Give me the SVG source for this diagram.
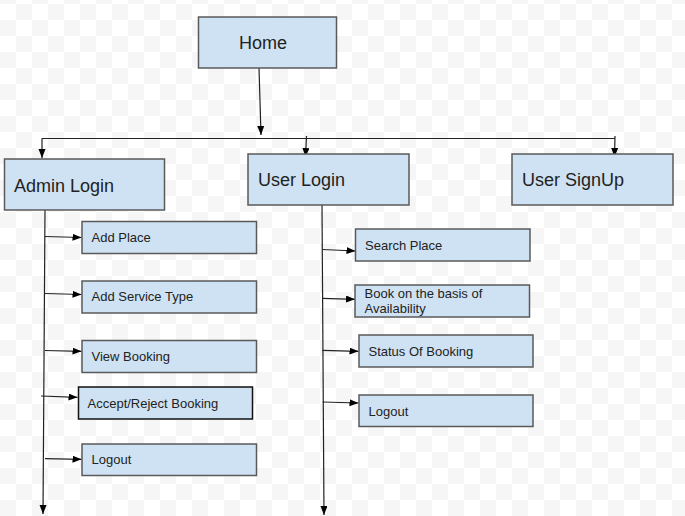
<svg xmlns="http://www.w3.org/2000/svg" width="685" height="516" viewBox="0 0 685 516">
<defs>
<pattern id="chk" patternUnits="userSpaceOnUse" x="0" y="4" width="32" height="32">
<rect width="32" height="32" fill="#ffffff"/>
<rect x="16" y="0" width="16" height="16" fill="#f6f6f6"/>
<rect x="0" y="16" width="16" height="16" fill="#f6f6f6"/>
</pattern>
<marker id="ah" markerUnits="userSpaceOnUse" markerWidth="10" markerHeight="8" refX="9" refY="3.5" orient="auto">
<path d="M0,0 L9,3.5 L0,7 z" fill="#000"/>
</marker>
</defs>
<style>
.box{fill:#cfe2f3;stroke:#5a5a5a;stroke-width:1.5}
.dark{stroke:#111}
.big{font-family:"Liberation Sans",Arial,sans-serif;font-size:18px;fill:#222}
.sm{font-family:"Liberation Sans",Arial,sans-serif;font-size:13px;fill:#222}
.ln{fill:none;stroke:#222;stroke-width:1.2}
.ar{fill:none;stroke:#222;stroke-width:1.2;marker-end:url(#ah)}
</style>
<rect width="685" height="516" fill="url(#chk)"/>
<g id="connectors">
<path class="ar" d="M259,68 L261,135"/>
<path class="ln" d="M42,138.5 L615,138.5"/>
<path class="ar" d="M42,138.5 L42,158"/>
<path class="ar" d="M306.5,136 L305.5,157"/>
<path class="ar" d="M615,136 L614.5,157"/>
<path class="ar" d="M45,210 L43,514"/>
<path class="ar" d="M322,205 L324,515"/>
<path class="ar" d="M45,236.5 L81.5,237.5"/>
<path class="ar" d="M45,293.5 L81.5,294.5"/>
<path class="ar" d="M45,350.5 L81.5,351.3"/>
<path class="ar" d="M41,396 L77.5,397.3"/>
<path class="ar" d="M45,458.7 L81.5,459.3"/>
<path class="ar" d="M322.5,249.5 L355.5,251"/>
<path class="ar" d="M322.5,298.3 L355,299.3"/>
<path class="ar" d="M322.5,350.3 L358.5,351.3"/>
<path class="ar" d="M322.5,402 L358.5,403"/>
</g>
<g id="home"><rect class="box" x="198.5" y="17" width="138" height="51"/><text class="big" x="239" y="49">Home</text></g>
<g id="admin-login"><rect class="box" x="4.5" y="159" width="160" height="51"/><text class="big" x="14" y="192">Admin Login</text></g>
<g id="user-login"><rect class="box" x="248" y="154" width="161" height="51"/><text class="big" x="258" y="186">User Login</text></g>
<g id="user-signup"><rect class="box" x="512" y="154" width="161" height="51"/><text class="big" x="522" y="186">User SignUp</text></g>
<g id="add-place"><rect class="box" x="82" y="221.5" width="174.5" height="32"/><text class="sm" x="91.5" y="242">Add Place</text></g>
<g id="add-service-type"><rect class="box" x="82" y="281" width="174.5" height="32"/><text class="sm" x="91.5" y="301">Add Service Type</text></g>
<g id="view-booking"><rect class="box" x="82" y="340.5" width="174.5" height="32"/><text class="sm" x="91.5" y="361">View Booking</text></g>
<g id="accept-reject-booking"><rect class="box dark" x="78.5" y="387" width="174" height="32"/><text class="sm" x="87.5" y="407.5">Accept/Reject Booking</text></g>
<g id="admin-logout"><rect class="box" x="82" y="444" width="174.5" height="31.5"/><text class="sm" x="91.5" y="464">Logout</text></g>
<g id="search-place"><rect class="box" x="355.5" y="229" width="174.5" height="32"/><text class="sm" x="365" y="250">Search Place</text></g>
<g id="book-availability"><rect class="box" x="355" y="285" width="174.5" height="32"/><text class="sm" x="364.5" y="298">Book on the basis of</text><text class="sm" x="364.5" y="312.5">Availability</text></g>
<g id="status-of-booking"><rect class="box" x="359" y="335" width="174" height="32"/><text class="sm" x="368.5" y="356">Status Of Booking</text></g>
<g id="user-logout"><rect class="box" x="359" y="395" width="174" height="31.5"/><text class="sm" x="368.5" y="416">Logout</text></g>
</svg>
